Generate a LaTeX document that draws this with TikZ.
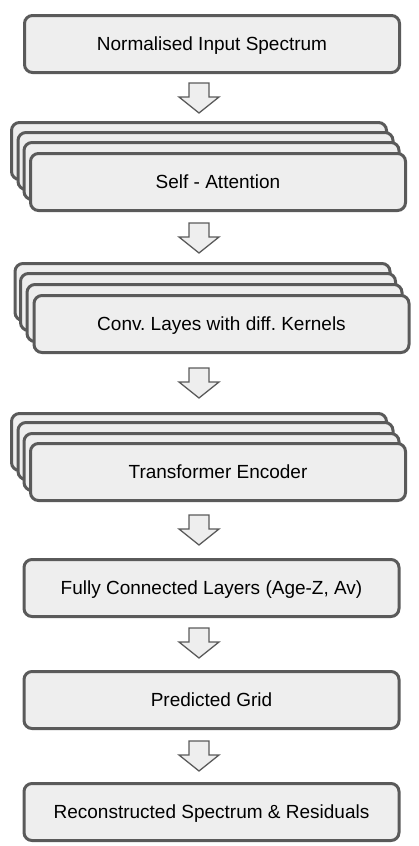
\documentclass[tikz,border=0pt]{standalone}
\usepackage{fontspec}
\setmainfont{Liberation Sans}
\definecolor{boxline}{HTML}{5A5A5A}
\definecolor{boxfill}{HTML}{EEEEEE}
\frenchspacing
\begin{document}
\begin{tikzpicture}[x=1pt,y=-1pt,
  blk/.style={draw=boxline, fill=boxfill, line width=3pt, rounded corners=8pt,
    minimum width=375pt, minimum height=57pt, inner sep=0pt,
    text height=13.6pt, text depth=0pt,
    font=\fontsize{19pt}{22pt}\selectfont, text=black},
  blockarrow/.style={draw=boxline, fill=boxfill, line width=1.3pt, line join=miter}]
\useasboundingbox (0,0) rectangle (419,846);

\node[blk] (inp) at (212,44) {Normalised Input Spectrum};

\node[blk] (sa1) at (199,151) {};
\node[blk] (sa2) at (205.5,161) {};
\node[blk] (sa3) at (211.5,171) {};
\node[blk] (sa) at (218,182) {Self - Attention};

\node[blk] (cv1) at (202.5,292) {};
\node[blk] (cv2) at (208,302) {};
\node[blk] (cv3) at (214.5,313) {};
\node[blk] (cv) at (221.5,324) {Conv. Layes with diff. Kernels};

\node[blk] (te1) at (199,442) {};
\node[blk] (te2) at (205.5,451) {};
\node[blk] (te3) at (211.5,462) {};
\node[blk] (te) at (218,472) {Transformer Encoder};

\node[blk] (fc) at (211.5,588) {Fully Connected Layers (Age-Z, Av)};
\node[blk] (pg) at (211.5,700) {Predicted Grid};
\node[blk] (rs) at (211.5,812) {Reconstructed Spectrum \& Residuals};

\foreach \t/\n in {83/a1,223/a2,368/a3,515/a4,628/a5,741/a6}{
  \coordinate (\n) at (199,\t);
  \draw[blockarrow] (\n) ++(-10,0) -- ++(20,0) -- ++(0,14) -- ++(10,0)
    -- ++(-20,16) -- ++(-20,-16) -- ++(10,0) -- cycle;
}
\end{tikzpicture}
\end{document}
